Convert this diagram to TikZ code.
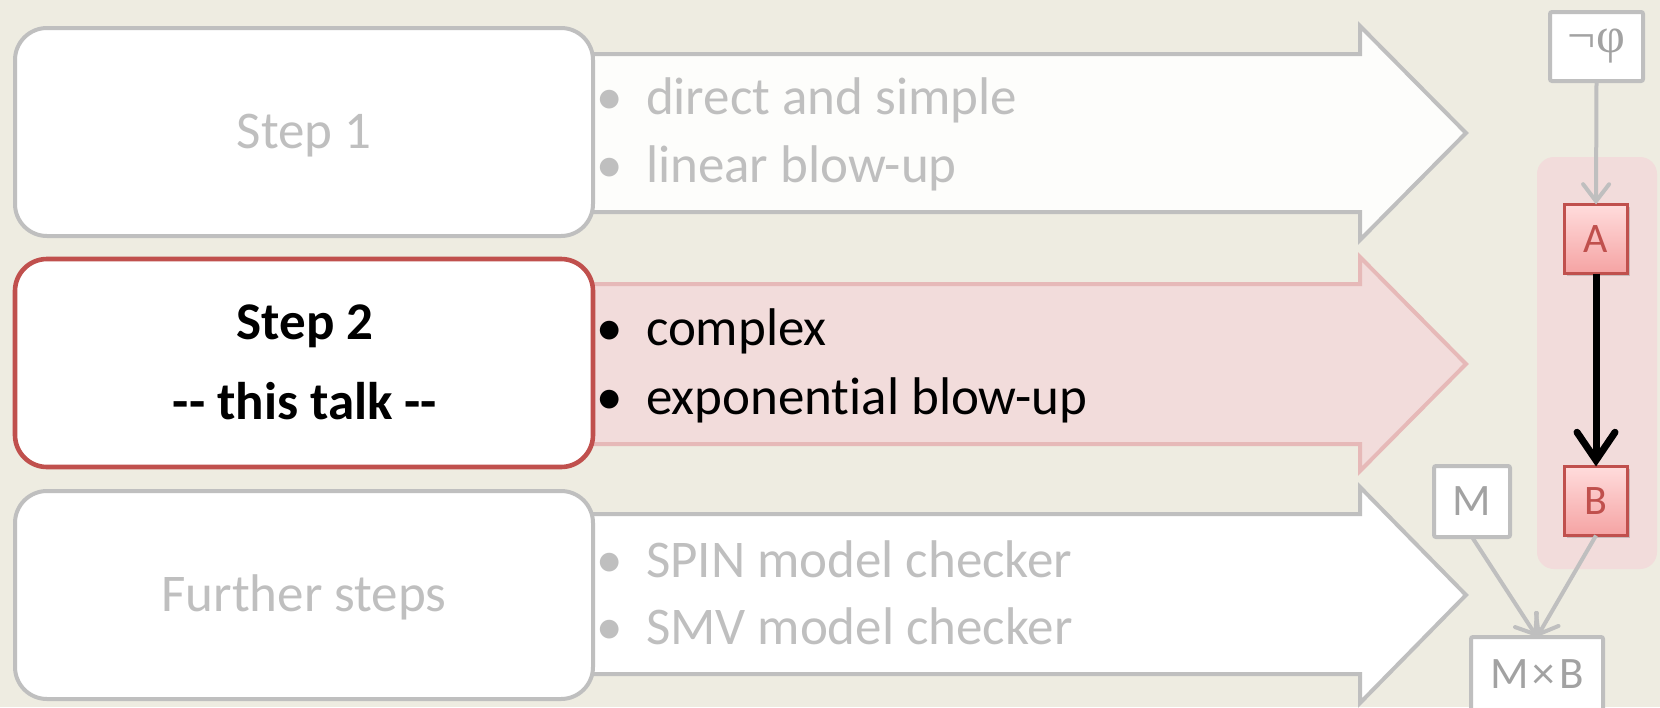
\documentclass[tikz,border=0pt]{standalone}
\usepackage{fontspec}
\setmainfont{Carlito}[Ligatures={NoCommon}]
\newfontfamily\symfont{Liberation Serif}
\usetikzlibrary{arrows.meta,shadows}

\definecolor{bg}{HTML}{EEECE1}
\definecolor{lgray}{HTML}{BFBFBF}
\definecolor{dred}{HTML}{C0504D}
\definecolor{pinkfill}{HTML}{F2DCDB}
\definecolor{pinkline}{HTML}{E6B9B8}
\definecolor{offwhite}{HTML}{FDFDFB}
\definecolor{redtop}{HTML}{FFDCDC}
\definecolor{redbot}{HTML}{F5A3A3}

\begin{document}
\begin{tikzpicture}[x=0.5pt,y=-0.5pt,
  every node/.style={inner sep=0pt, outer sep=0pt},
  bigarrow/.style={line width=2pt, line join=miter, draw=lgray},
  stepbox/.style={draw=lgray, fill=white, line width=2pt, rounded corners=16pt,
                  minimum width=289pt, minimum height=104pt},
  bigtext/.style={font=\fontsize{26.5}{30}\selectfont},
  graybig/.style={bigtext, text=lgray},
  blackbig/.style={bigtext, text=black},
  boldbig/.style={text=black, font=\fontsize{26.5}{30}\selectfont\bfseries},
  smallbox/.style={draw=lgray, fill=white, line width=2pt, rounded corners=1pt,
                   font=\fontsize{22.5}{24}\selectfont, text=lgray!85!black},
  redbox/.style={draw=dred, line width=1.5pt, top color=redtop, bottom color=redbot,
                 minimum width=31.5pt, minimum height=34.5pt, text=dred,
                 font=\fontsize{21}{24}\selectfont,
                 drop shadow={opacity=0.35, shadow xshift=1.2pt, shadow yshift=-1.2pt}},
  grayconn/.style={draw=lgray, line width=2pt,
                   -{Straight Barb[length=8.5pt,width=13pt,line cap=round]}},
  blackconn/.style={draw=black, line width=3.5pt,
                    -{Straight Barb[length=14pt,width=19pt,line cap=round]}}
]
\clip (0,0) rectangle (1660,707);
\fill[bg] (0,0) rectangle (1660,707);

% block arrows behind the step boxes
\draw[bigarrow, fill=offwhite]
  (560,54) -- (1360,54) -- (1360,26) -- (1466,133) -- (1360,240) -- (1360,212) -- (560,212) -- cycle;
\draw[bigarrow, draw=pinkline, fill=pinkfill]
  (560,284) -- (1360,284) -- (1360,257) -- (1466,364) -- (1360,471) -- (1360,444) -- (560,444) -- cycle;
\draw[bigarrow, fill=white]
  (560,514) -- (1360,514) -- (1360,487) -- (1466,595) -- (1360,703) -- (1360,674) -- (560,674) -- cycle;

% step boxes
\node[stepbox] (s1) at (304,132) {};
\node[stepbox, draw=dred, line width=2.3pt] (s2) at (304,363) {};
\node[stepbox] (s3) at (304,595) {};

\node[graybig, anchor=base] (t1) at (304,148) {Step 1};
\node[boldbig, anchor=base] (t2a) at (305,339) {Step 2};
\node[boldbig, anchor=base] (t2b) at (305,419)
  {\mbox{-}\mbox{-} this talk \mbox{-}\mbox{-}};
\node[graybig, anchor=base] (t3) at (304,611) {Further steps};

% bullet lists on the arrows
\node[graybig, anchor=base] (b11) at (610,114) {•};
\node[graybig, anchor=base west] (l11) at (646,114) {direct and simple};
\node[graybig, anchor=base] (b12) at (610,182) {•};
\node[graybig, anchor=base west] (l12) at (646,182) {linear blow-up};

\node[blackbig, anchor=base] (b21) at (610,345) {•};
\node[blackbig, anchor=base west] (l21) at (646,345) {complex};
\node[blackbig, anchor=base] (b22) at (610,414) {•};
\node[blackbig, anchor=base west] (l22) at (646,414) {exponential blow-up};

\node[graybig, anchor=base] (b31) at (610,577) {•};
\node[graybig, anchor=base west] (l31) at (646,577) {SPIN model checker};
\node[graybig, anchor=base] (b32) at (610,644) {•};
\node[graybig, anchor=base west] (l32) at (646,644) {SMV model checker};

% automaton panel
\fill[pinkfill, rounded corners=8.5pt] (1537,157) rectangle (1657,569);

\node[smallbox, minimum width=46.5pt, minimum height=34.5pt,
      font=\fontsize{25}{26}\symfont] (neg) at (1596.5,46.5) {¬φ};
\node[redbox] (A) at (1596,239) {A};
\node[redbox] (B) at (1596,501) {B};
\node[smallbox, minimum width=38pt, minimum height=35.5pt] (M) at (1472,501.5) {M};
\node[smallbox, minimum width=66pt, minimum height=37pt] (MB) at (1537,674)
  {M\hspace{2pt}×\hspace{2pt}B};

\draw[grayconn] (neg.south) -- (A.north);
\draw[blackconn] (A.south) -- (B.north);
\draw[grayconn] (M.south) -- (MB.north);
\draw[grayconn] (B.south) -- (MB.north);
\end{tikzpicture}
\end{document}
